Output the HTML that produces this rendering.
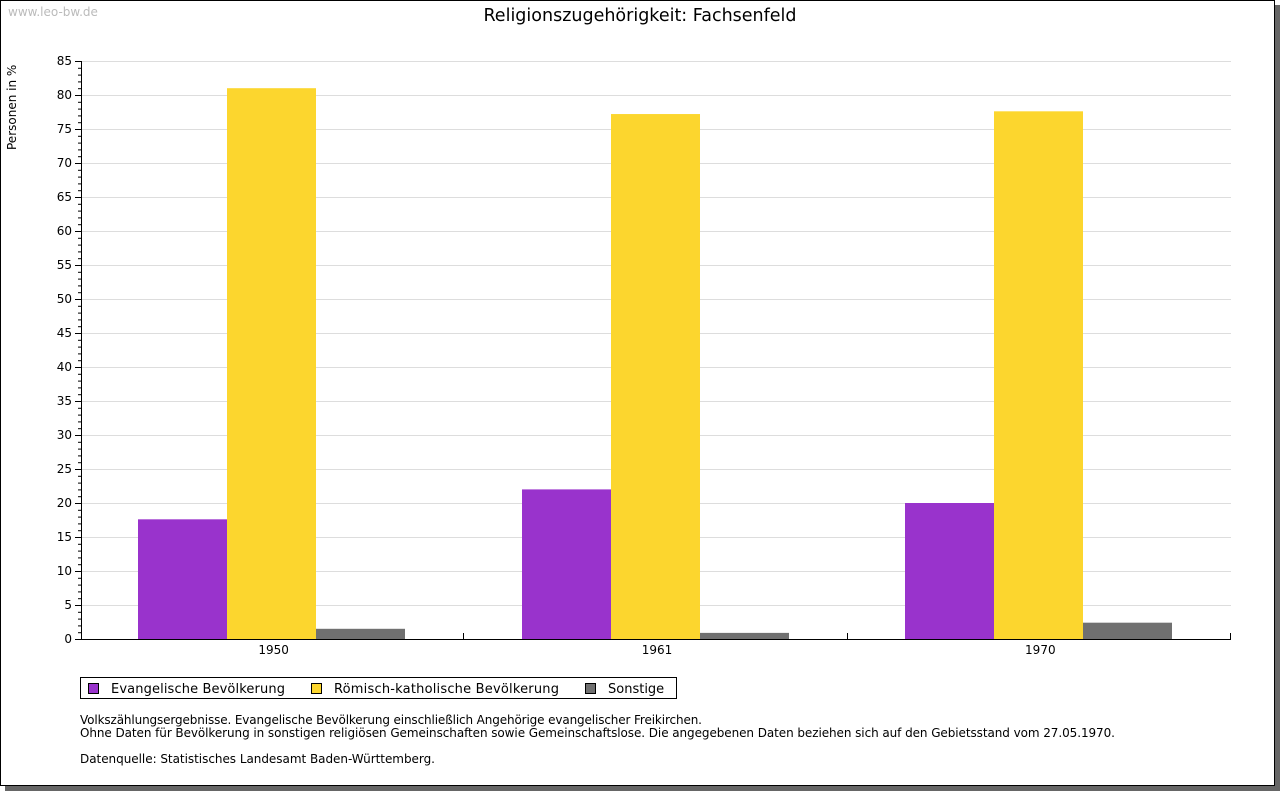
<!DOCTYPE html>
<html><head><meta charset="utf-8"><style>
body{margin:0;background:#fff;width:1280px;height:791px;overflow:hidden;font-family:"DejaVu Sans","Liberation Sans",sans-serif;}
</style></head><body>
<svg width="1280" height="791" xmlns="http://www.w3.org/2000/svg" font-family="DejaVu Sans, Liberation Sans, sans-serif">
<rect x="5" y="5" width="1275" height="786" fill="#666"/>
<rect x="0.5" y="0.5" width="1274" height="785" fill="#fff" stroke="#000"/>
<text x="8" y="16" font-size="12" fill="#bbb">www.leo-bw.de</text>
<text x="640" y="21" font-size="17.5" text-anchor="middle" fill="#000">Religionszugehörigkeit: Fachsenfeld</text>
<text transform="translate(16,150) rotate(-90)" font-size="12">Personen in %</text>
<g id="grid"></g><g id="bars"></g><g id="axes"></g>
<g>
<rect x="80.5" y="677.5" width="596" height="21" fill="#fff" stroke="#000"/>
<rect x="88.5" y="683.5" width="10" height="10" fill="#9933cc" stroke="#000"/>
<text x="111" y="693" font-size="13" textLength="174">Evangelische Bevölkerung</text>
<rect x="311.5" y="683.5" width="10" height="10" fill="#fcd62e" stroke="#000"/>
<text x="334" y="693" font-size="13" textLength="225">Römisch-katholische Bevölkerung</text>
<rect x="585.5" y="683.5" width="10" height="10" fill="#707070" stroke="#000"/>
<text x="608" y="693" font-size="13">Sonstige</text>
</g>
<g font-size="12">
<text x="80" y="724" textLength="622">Volkszählungsergebnisse. Evangelische Bevölkerung einschließlich Angehörige evangelischer Freikirchen.</text>
<text x="80" y="737" textLength="1035">Ohne Daten für Bevölkerung in sonstigen religiösen Gemeinschaften sowie Gemeinschaftslose. Die angegebenen Daten beziehen sich auf den Gebietsstand vom 27.05.1970.</text>
<text x="80" y="763" textLength="355">Datenquelle: Statistisches Landesamt Baden-Württemberg.</text>
</g>
</svg>
<script>
const categories=["1950","1961","1970"];
const evangelisch=[17.6,22.0,20.0];
const katholisch=[81.0,77.2,77.6];
const sonstige=[1.5,0.9,2.4];
const yTicks=[0,5,10,15,20,25,30,35,40,45,50,55,60,65,70,75,80,85];
const NS="http://www.w3.org/2000/svg";
const X0=81,X1=1231,Y0=639,Y1=61,YMAX=85;
const y=v=>Y0-(Y0-Y1)*v/YMAX;
const bw=(X1-X0)/categories.length;
const barW=89;
function mk(t,a,p){const e=document.createElementNS(NS,t);for(const k in a)e.setAttribute(k,a[k]);p.appendChild(e);return e;}
const grid=document.getElementById('grid'),bars=document.getElementById('bars'),axes=document.getElementById('axes');
yTicks.forEach(v=>{
 if(v>0){const l=mk('line',{x1:X0,x2:X1,y1:y(v)+0.5,y2:y(v)+0.5,stroke:'#ddd'},grid);
 
 }
 const t=mk('text',{x:72,y:y(v)+4,'font-size':12,'text-anchor':'end'},axes);t.textContent=v;
 
 
 mk('line',{x1:X0-6,x2:X0,y1:y(v)+0.5,y2:y(v)+0.5,stroke:'#000'},axes);
});
for(let v=0;v<YMAX;v++){if(v%5)mk('line',{x1:X0-3,x2:X0,y1:y(v)+0.5,y2:y(v)+0.5,stroke:'#000'},axes);}
const series=[[evangelisch,'#9933cc','evangelisch'],[katholisch,'#fcd62e','katholisch'],[sonstige,'#707070','sonstige']];
categories.forEach((c,i)=>{
 const gx=Math.round(X0+i*bw+(bw-barW*3)/2)-1;
 series.forEach((s,j)=>{
  const v=s[0][i];
  const r=mk('rect',{x:gx+j*barW,y:y(v),width:barW,height:Y0-y(v),fill:s[1]},bars);
  
  
 });
 const t=mk('text',{x:X0+(i+0.5)*bw+1,y:654,'font-size':12,'text-anchor':'middle'},axes);t.textContent=c;
 
 
 const tx=Math.round(X0+(i+1)*bw)-0.5;
 mk('line',{x1:tx,x2:tx,y1:Y0-6,y2:Y0,stroke:'#000'},axes);
});
const ya=mk('line',{x1:X0+0.5,x2:X0+0.5,y1:Y1,y2:Y0+1,stroke:'#000'},axes);


const xa=mk('line',{x1:X0,x2:X1,y1:Y0+0.5,y2:Y0+0.5,stroke:'#000'},axes);


</script>
</body></html>
